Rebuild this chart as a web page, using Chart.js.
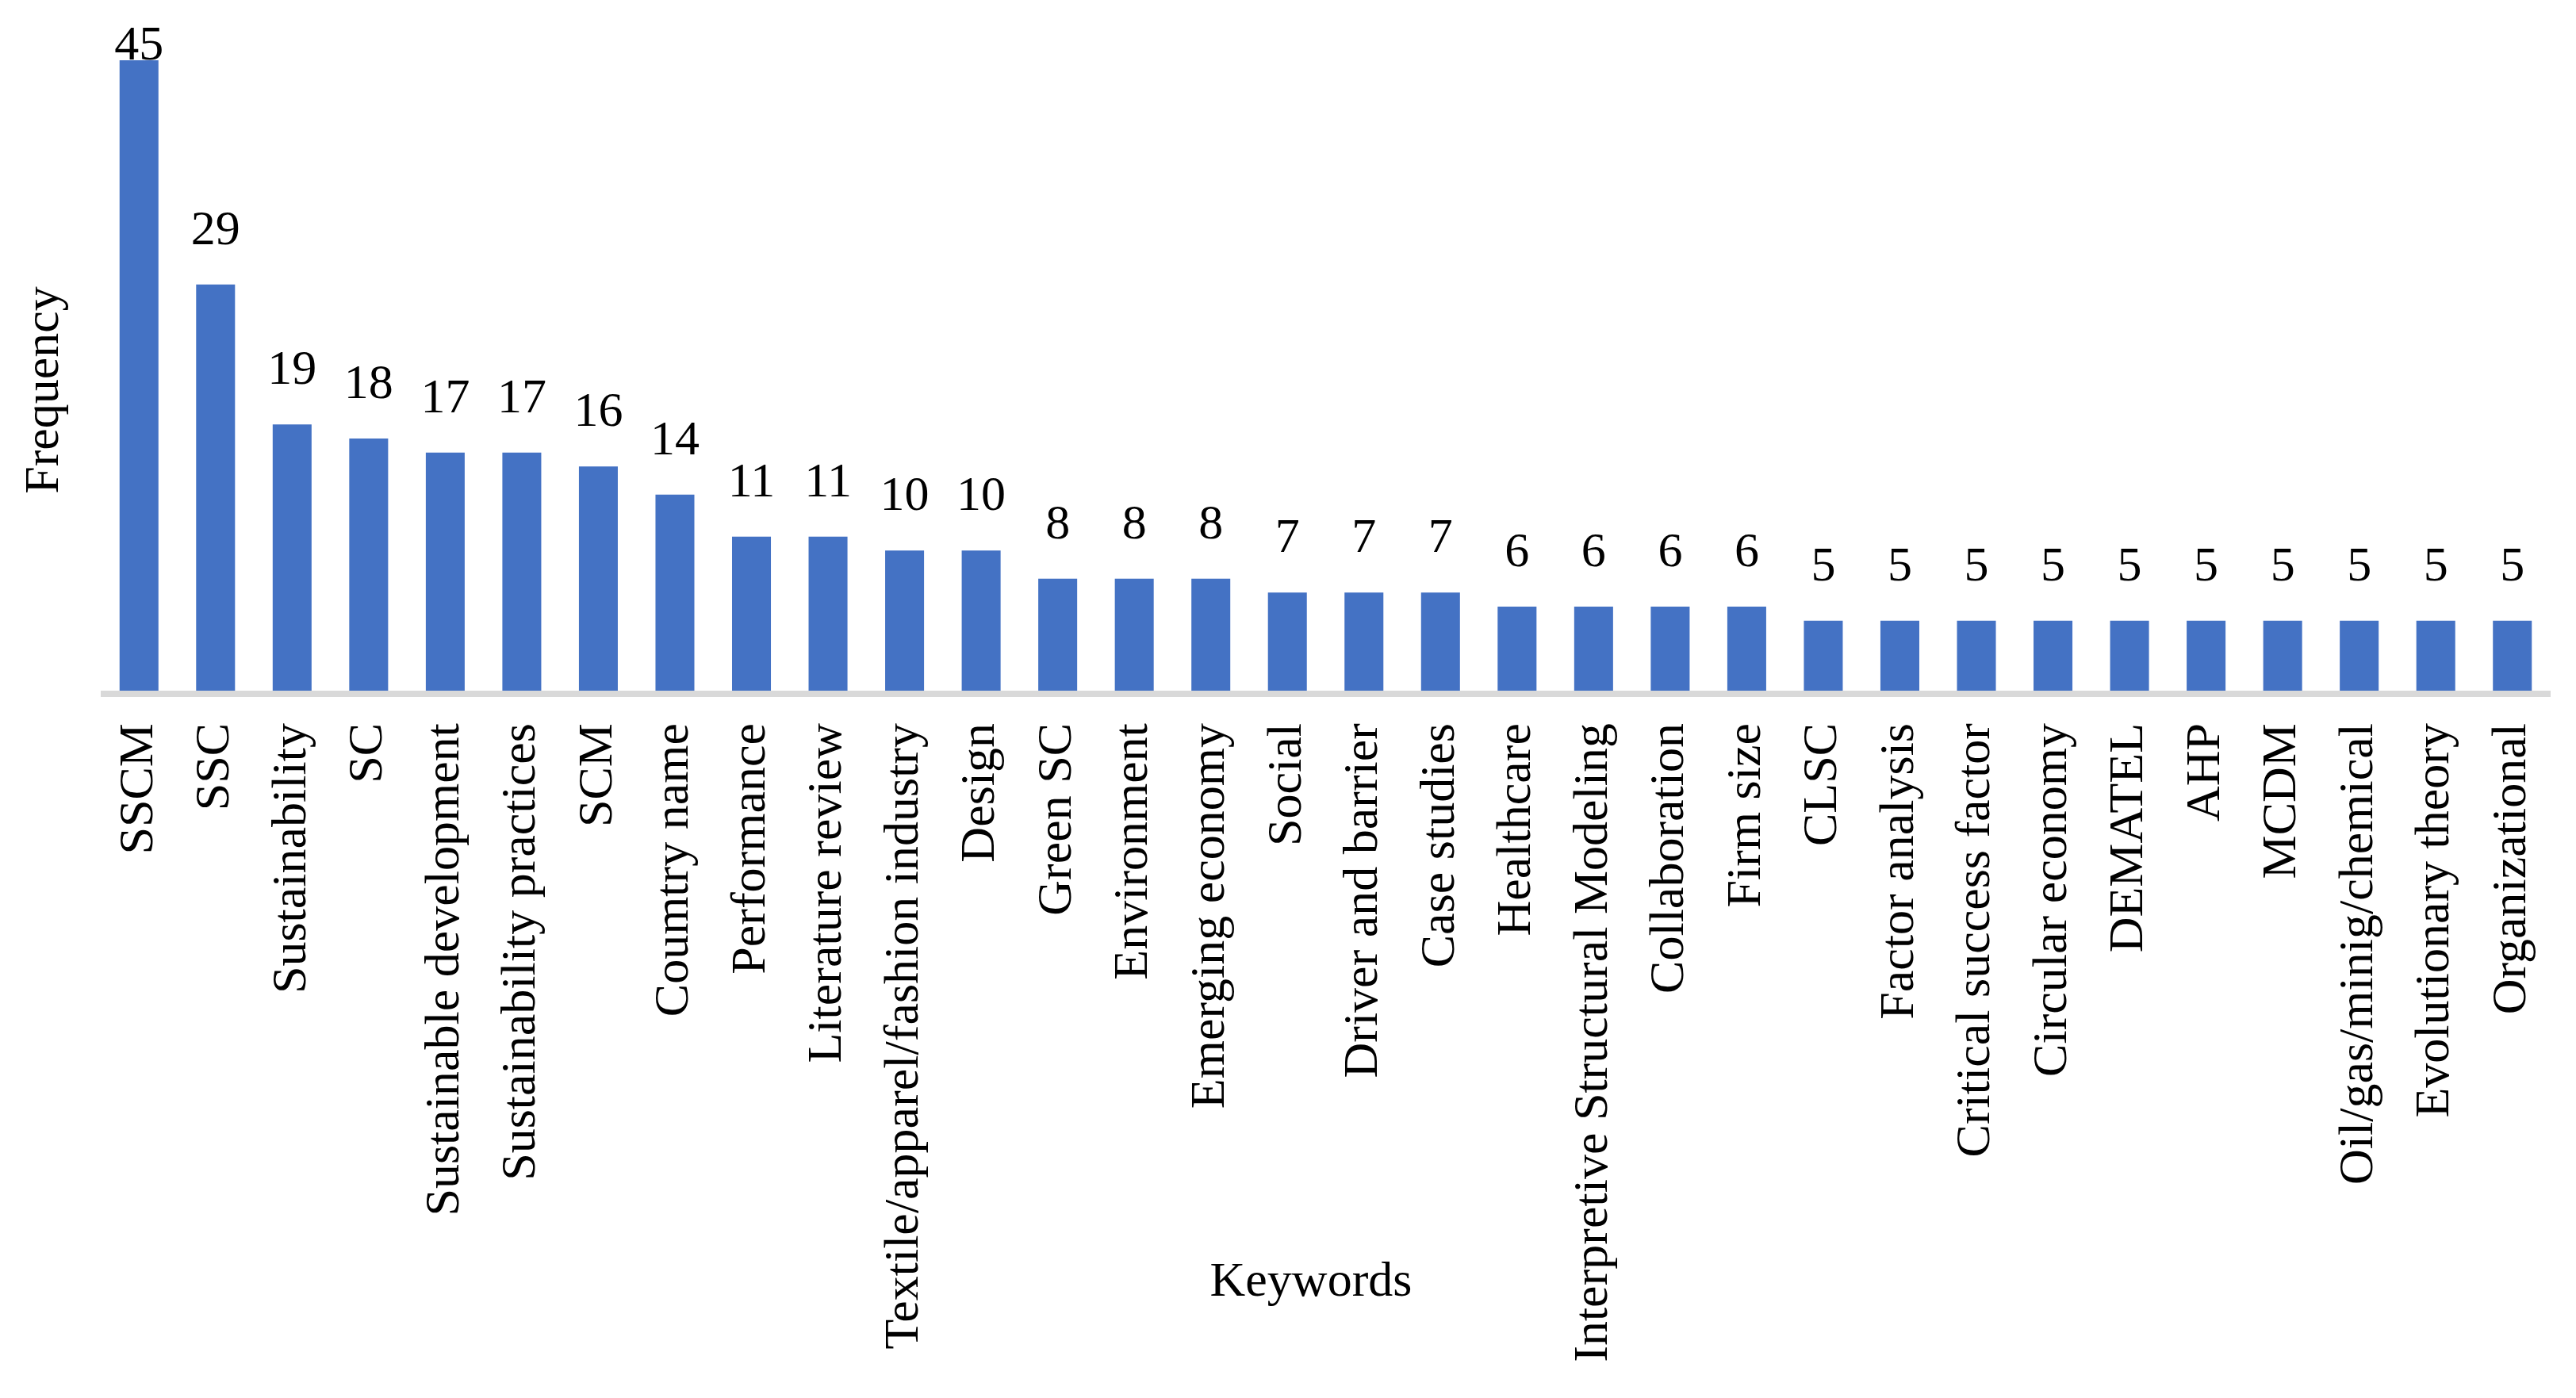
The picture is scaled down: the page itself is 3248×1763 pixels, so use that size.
<!DOCTYPE html>
<html>
<head>
<meta charset="utf-8">
<script src="https://cdn.jsdelivr.net/npm/chart.js@4.4.1/dist/chart.umd.min.js"></script>
<style>
  html, body { margin: 0; padding: 0; background: #ffffff; }
  #wrap { width: 3248px; height: 1763px; }
</style>
</head>
<body>
<div id="wrap"><canvas id="c" width="3248" height="1763"></canvas></div>
<script>
const categories = [
  "SSCM", "SSC", "Sustainability", "SC", "Sustainable development",
  "Sustainability practices", "SCM", "Coumtry name", "Performance",
  "Literature review", "Textile/apparel/fashion industry", "Design",
  "Green SC", "Environment", "Emerging economy", "Social",
  "Driver and barrier", "Case studies", "Healthcare",
  "Interpretive Structural Modeling", "Collaboration", "Firm size", "CLSC",
  "Factor analysis", "Critical success factor", "Circular economy",
  "DEMATEL", "AHP", "MCDM", "Oil/gas/minig/chemical", "Evolutionary theory",
  "Organizational"
];
const frequency = [
  45, 29, 19, 18, 17, 17, 16, 14, 11, 11, 10, 10, 8, 8, 8, 7, 7, 7,
  6, 6, 6, 6, 5, 5, 5, 5, 5, 5, 5, 5, 5, 5
];
const xTitle = "Keywords";
const yTitle = "Frequency";

const FONT = '"Liberation Serif", "Times New Roman", serif';

const decorPlugin = {
  id: 'decor',
  afterDatasetsDraw(chart) {
    const ctx = chart.ctx;
    const area = chart.chartArea;
    ctx.save();
    // axis line
    ctx.fillStyle = '#D9D9D9';
    ctx.fillRect(area.left, area.bottom, area.right - area.left, 8);
    // value labels
    ctx.fillStyle = '#000000';
    ctx.font = '62px ' + FONT;
    ctx.textAlign = 'center';
    ctx.textBaseline = 'alphabetic';
    const meta = chart.getDatasetMeta(0);
    meta.data.forEach((bar, i) => {
      const y = Math.max(bar.y - 51, 75);
      ctx.fillText(String(frequency[i]), bar.x, y);
    });
    // x title
    ctx.fillText(xTitle, 1653, 1634);
    // y title
    ctx.translate(73, 492);
    ctx.rotate(-Math.PI / 2);
    ctx.fillText(yTitle, 0, 0);
    ctx.restore();
  }
};

new Chart(document.getElementById('c'), {
  type: 'bar',
  data: {
    labels: categories,
    datasets: [{
      data: frequency,
      backgroundColor: '#4472C4',
      borderWidth: 0,
      barPercentage: 0.508,
      categoryPercentage: 1.0
    }]
  },
  options: {
    responsive: false,
    animation: false,
    devicePixelRatio: 1,
    layout: { padding: { left: 127, right: 32, top: 76, bottom: 0 } },
    plugins: {
      legend: { display: false },
      title: { display: false },
      tooltip: { enabled: false }
    },
    scales: {
      x: {
        grid: { display: false, drawTicks: false },
        border: { display: false },
        ticks: {
          autoSkip: false,
          minRotation: 90,
          maxRotation: 90,
          padding: 41,
          color: '#000000',
          font: { family: FONT, size: 62 }
        },
        afterFit(scale) {
          scale.height = 1763 - 871;
          scale.paddingLeft = 0;
          scale.paddingRight = 0;
        }
      },
      y: {
        display: false,
        min: 0,
        max: 45
      }
    }
  },
  plugins: [decorPlugin]
});
</script>
</body>
</html>
